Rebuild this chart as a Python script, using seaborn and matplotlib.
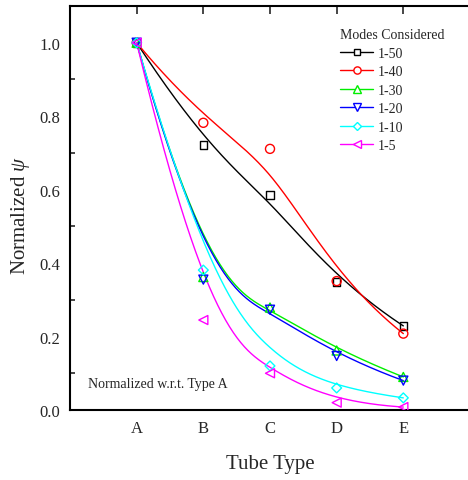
import numpy as np
import pandas as pd
import matplotlib
matplotlib.use("Agg")
import matplotlib.pyplot as plt
from matplotlib.lines import Line2D
from matplotlib.ticker import MultipleLocator
import seaborn as sns

sns.set_style("white")
plt.rcParams["font.family"] = ["Liberation Serif", "DejaVu Serif"]
plt.rcParams["mathtext.fontset"] = "custom"
plt.rcParams["mathtext.it"] = "Liberation Serif:italic"
plt.rcParams["mathtext.rm"] = "Liberation Serif"

tube_types = ["A", "B", "C", "D", "E"]
series_names = ["1-50", "1-40", "1-30", "1-20", "1-10", "1-5"]
modes_50 = [1.0, 0.722, 0.586, 0.349, 0.229]
modes_40 = [1.0, 0.782, 0.711, 0.351, 0.208]
modes_30 = [1.0, 0.362, 0.279, 0.162, 0.090]
modes_20 = [1.0, 0.355, 0.273, 0.147, 0.080]
modes_10 = [1.0, 0.381, 0.120, 0.060, 0.033]
modes_5 = [1.0, 0.245, 0.100, 0.020, 0.008]

series_values = [modes_50, modes_40, modes_30, modes_20, modes_10, modes_5]
colors = ["#000000", "#ff0000", "#00ee00", "#0000ff", "#00ffff", "#ff00ff"]
marker_shapes = ["s", "o", "^", "v", "D", "<"]
marker_sizes = [5.5, 6.5, 6.5, 6.5, 5.0, 6.5]


def bspline_curve(xs, ys, n=300, k=3):
    """Clamped cubic B-spline using the data points as control points."""
    m = len(xs)
    inner = list(np.linspace(0, 1, m - k + 1)[1:-1])
    knots = np.array([0.0] * (k + 1) + inner + [1.0] * (k + 1))
    t = np.linspace(0, 1, n)
    t[-1] = 1 - 1e-12

    def basis(i, p, tt):
        if p == 0:
            return np.where((knots[i] <= tt) & (tt < knots[i + 1]), 1.0, 0.0)
        left = 0.0
        right = 0.0
        d1 = knots[i + p] - knots[i]
        d2 = knots[i + p + 1] - knots[i + 1]
        if d1 > 0:
            left = (tt - knots[i]) / d1 * basis(i, p - 1, tt)
        if d2 > 0:
            right = (knots[i + p + 1] - tt) / d2 * basis(i + 1, p - 1, tt)
        return left + right

    B = np.array([basis(i, k, t) for i in range(m)])
    return B.T @ np.asarray(xs, float), B.T @ np.asarray(ys, float)


xpos = np.arange(len(tube_types))
point_rows = []
curve_rows = []
for name, vals in zip(series_names, series_values):
    for x, v in zip(xpos, vals):
        point_rows.append({"x": x, "y": v, "series": name})
    cx, cy = bspline_curve(xpos, vals)
    for j, (a, b) in enumerate(zip(cx, cy)):
        curve_rows.append({"x": a, "y": b, "series": name, "order": j})
points = pd.DataFrame(point_rows)
curves = pd.DataFrame(curve_rows)

palette = dict(zip(series_names, colors))

fig = plt.figure(figsize=(4.68, 4.81), dpi=100)
ax = fig.add_axes([70 / 468, (481 - 411) / 481, 400 / 468, 404 / 481])

sns.lineplot(data=curves, x="x", y="y", hue="series", palette=palette,
             sort=False, estimator=None, units="series", linewidth=1.0,
             legend=False, ax=ax)

for name, vals, c, mk, ms in zip(series_names, series_values, colors,
                                 marker_shapes, marker_sizes):
    sub = points[points["series"] == name]
    sns.scatterplot(data=sub, x="x", y="y", marker=mk, s=ms ** 2,
                    facecolor="none", edgecolor=c, linewidth=1.0,
                    legend=False, ax=ax, zorder=3)

ax.set_xlim(-1, 5)
ax.set_ylim(0, 1.1)
ax.set_xticks(xpos)
ax.set_xticklabels(tube_types)
ax.yaxis.set_major_locator(MultipleLocator(0.2))
ax.yaxis.set_minor_locator(MultipleLocator(0.1))
ax.set_yticks([0.0, 0.2, 0.4, 0.6, 0.8, 1.0])
ax.set_yticklabels(["0.0", "0.2", "0.4", "0.6", "0.8", "1.0"])
ax.tick_params(axis="both", which="major", direction="in", length=6, width=1.2,
               labelsize=12, top=True, right=False, pad=7)
ax.tick_params(axis="y", which="minor", direction="in", length=3.5, width=1.2,
               left=True, right=False)
for sp in ax.spines.values():
    sp.set_color("black")
    sp.set_linewidth(1.5)
ax.spines["right"].set_visible(False)

ax.set_xlabel("Tube Type", fontsize=15, labelpad=13)
ax.set_ylabel(r"Normalized $\psi$", fontsize=15)
ax.yaxis.set_label_coords(-0.095, 0.485)

ax.text(88 / 468, 1 - 385 / 481, "Normalized w.r.t. Type A",
        transform=fig.transFigure, fontsize=10, va="center", ha="left")

handles = [Line2D([0], [0], color=c, marker=mk, markersize=ms * 0.8,
                  markerfacecolor="white", markeredgecolor=c, linewidth=1.0)
           for c, mk, ms in zip(colors, marker_shapes, marker_sizes)]
leg = ax.legend(handles, series_names, title="Modes Considered",
                loc="upper left", bbox_to_anchor=(333 / 468, 1 - 22 / 481),
                bbox_transform=fig.transFigure, frameon=False, fontsize=10,
                title_fontsize=10, handlelength=2.4, handletextpad=0.3,
                labelspacing=0.40, borderpad=0.0)
leg._legend_box.align = "left"

fig.savefig("out.png", dpi=100)
